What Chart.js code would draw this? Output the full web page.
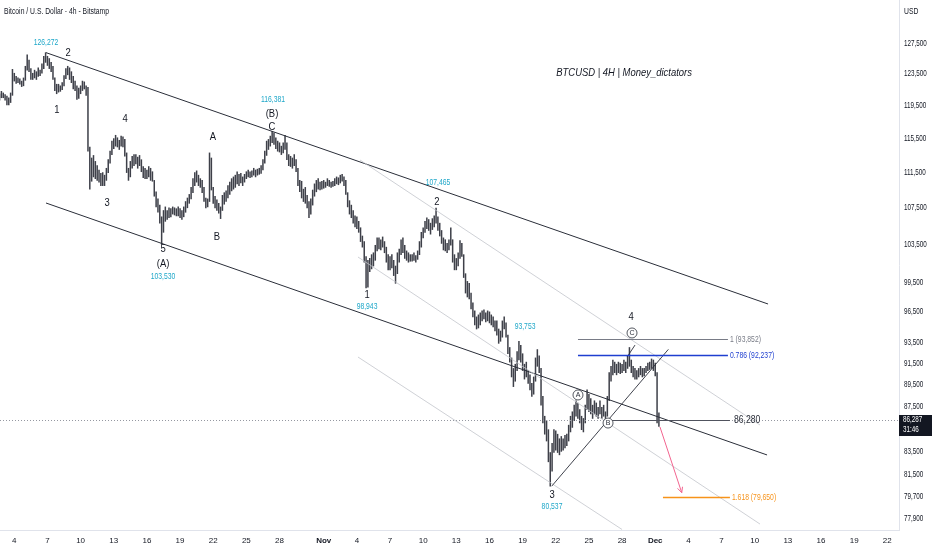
<!DOCTYPE html>
<html>
<head>
<meta charset="utf-8">
<title>BTCUSD 4H</title>
<script src="https://cdn.jsdelivr.net/npm/chart.js@4.4.1/dist/chart.umd.min.js"></script>
<style>
html, body { margin: 0; padding: 0; background: #fff; }
#wrap { width: 932px; height: 550px; position: relative; }
</style>
</head>
<body>
<div id="wrap"><canvas id="btc_chart"></canvas></div>
<script>
// time unit: days from Oct 1 00:00, one bar every 4h starting Oct 2 16:00
var firstBarDay = 1 + 16 / 24;
var barStep = 1 / 6;

// bar highs, thousands of USD, one row per day
var barHigh = [
    121.0, 121.3,
    121.1, 120.9, 120.7, 120.5, 121.1, 124.1,
    123.6, 123.2, 123.0, 122.9, 122.6, 123.0,
    124.5, 126.0, 125.3, 124.2, 123.6, 124.0,
    123.8, 124.3, 124.0, 124.8, 125.8, 126.27,
    125.8, 125.5, 125.0, 124.5, 123.0, 122.2,
    122.2, 122.0, 122.4, 123.3, 124.2, 124.5,
    124.3, 123.8, 123.2, 122.6, 122.0, 121.7,
    122.0, 122.6, 122.5, 122.0, 121.8, 114.5,
    113.2, 113.5, 112.8, 112.3, 111.8, 111.4,
    111.5, 111.2, 112.0, 113.0, 114.0, 115.2,
    115.5, 115.9, 115.6, 115.3, 115.8, 115.7,
    115.4, 113.8, 112.0, 112.8, 113.4, 113.6,
    113.6, 113.3, 113.5, 113.0, 112.2, 112.0,
    111.8, 112.2, 112.0, 111.6, 110.6, 109.3,
    108.5, 107.8, 106.5, 107.2, 107.6, 107.2,
    107.5, 107.4, 107.6, 107.5, 107.4, 107.6,
    107.4, 107.2, 107.6, 108.2, 108.6, 109.0,
    109.8, 110.8, 111.5, 111.7, 111.2, 110.8,
    110.6, 109.8, 108.6, 108.5, 113.8, 113.2,
    109.8, 108.8, 108.4, 108.0, 107.6, 108.9,
    109.2, 109.4, 110.0, 110.4, 110.8, 111.0,
    111.2, 111.6, 111.3, 111.4, 111.0, 111.3,
    111.6, 111.8, 111.6, 111.7, 112.0, 111.8,
    111.9, 112.0, 112.3, 113.0, 114.0, 115.2,
    115.4, 115.8, 116.38, 116.2, 115.6, 115.2,
    115.0, 114.6, 115.0, 115.9, 115.0, 113.6,
    113.4, 113.2, 113.6, 113.0, 112.0, 110.6,
    110.5, 109.6, 109.8, 108.9, 108.2, 108.5,
    109.5, 110.2, 110.6, 110.8, 110.4, 110.5,
    110.6, 110.4, 110.8, 110.6, 110.4, 110.5,
    110.8, 111.0, 110.9, 111.2, 111.3, 111.0,
    110.6, 109.2, 108.3, 107.8, 107.2, 106.6,
    106.5, 106.0, 105.3, 104.4, 103.8, 102.2,
    101.8, 102.0, 102.4, 102.6, 103.4, 104.2,
    104.2, 104.0, 104.3, 103.8, 103.2, 102.4,
    102.2, 102.4, 101.8, 101.2, 102.6, 103.0,
    104.0, 104.2, 103.4, 102.8, 102.6, 102.4,
    102.4, 102.6, 102.3, 102.8, 103.8, 104.8,
    105.3, 106.0, 106.4, 106.2, 105.8, 106.3,
    106.6, 107.47, 106.5, 105.8, 105.0, 104.2,
    104.0, 103.6, 104.0, 105.3, 104.0, 102.4,
    102.0, 102.6, 103.9, 103.6, 102.4, 100.4,
    99.6, 99.4, 98.4, 97.4, 96.6, 96.0,
    96.2, 96.4, 96.6, 96.7, 96.4, 96.6,
    96.5, 96.2, 96.0, 95.6, 95.6, 94.8,
    94.6, 95.6, 96.0, 95.4, 94.2, 93.0,
    92.0, 91.0, 91.4, 92.6, 93.6, 93.2,
    92.4, 91.4, 91.6, 90.8, 90.4, 89.6,
    90.2, 92.0, 92.8, 92.2, 91.0, 88.4,
    86.6, 86.2, 85.4, 83.4, 84.2, 85.4,
    85.3, 85.0, 84.6, 84.8, 84.6, 84.9,
    85.0, 85.8, 86.6, 87.0, 87.6, 88.0,
    87.8, 87.2, 86.6, 86.4, 87.6, 89.0,
    88.6, 88.2, 87.6, 88.0, 87.8, 87.4,
    88.0, 87.4, 87.6, 87.0, 88.4, 90.6,
    91.2, 91.8, 91.6, 91.4, 91.6, 91.5,
    91.4, 91.8, 91.6, 92.2, 93.0, 91.8,
    91.2, 91.0, 90.8, 91.0, 91.2, 91.0,
    91.0, 91.2, 91.5, 91.6, 91.9, 91.8,
    91.5, 90.6, 86.9
];
var barLow = [
    120.2, 120.5,
    120.5, 120.2, 119.6, 119.6, 119.9, 120.8,
    122.6, 122.3, 122.4, 122.2, 121.9, 122.0,
    122.7, 124.0, 123.8, 122.8, 122.8, 123.0,
    122.8, 123.2, 123.3, 123.6, 124.2, 125.0,
    124.6, 124.2, 123.8, 122.8, 121.4, 121.0,
    121.2, 121.3, 121.5, 122.0, 122.9, 123.4,
    122.8, 122.4, 121.6, 121.4, 120.3, 120.4,
    121.0, 121.4, 121.6, 120.8, 114.0, 109.6,
    110.5, 111.0, 110.8, 110.6, 110.4, 110.0,
    110.0, 110.0, 110.6, 111.5, 112.6, 113.6,
    114.3, 114.6, 114.5, 114.2, 114.6, 114.5,
    113.4, 111.5, 110.6, 111.0, 112.0, 112.3,
    112.5, 112.0, 112.3, 111.6, 110.9, 110.8,
    110.8, 111.0, 110.6, 110.5, 108.8, 107.6,
    107.0, 105.8, 103.53, 104.8, 106.0, 106.2,
    106.4, 106.5, 106.8, 106.7, 106.6, 106.6,
    106.4, 106.2, 106.5, 107.0, 107.5, 108.0,
    108.5, 109.2, 110.0, 110.4, 110.0, 109.8,
    109.2, 108.2, 107.5, 107.6, 108.2, 109.5,
    108.0, 107.5, 107.2, 106.9, 106.3, 107.2,
    107.9, 108.2, 108.6, 109.0, 109.4, 109.6,
    109.8, 110.2, 110.0, 110.3, 110.0, 110.4,
    110.8, 111.0, 110.9, 111.0, 111.2, 111.0,
    111.2, 111.3, 111.4, 111.8, 112.6, 113.5,
    114.2, 114.6, 115.0, 114.8, 114.3, 114.0,
    113.9, 113.6, 113.8, 114.2, 113.0, 112.3,
    112.2, 112.0, 112.3, 111.6, 110.0, 109.3,
    108.6, 108.2, 108.0, 107.5, 106.4, 106.8,
    107.8, 108.8, 109.3, 109.6, 109.5, 109.6,
    109.7, 109.8, 110.0, 109.9, 109.8, 109.9,
    110.0, 110.2, 110.1, 110.3, 110.5, 110.0,
    109.0, 107.6, 106.8, 106.4, 105.8, 105.4,
    105.2, 104.8, 103.8, 103.2, 101.6, 98.94,
    99.0, 100.6, 100.9, 101.2, 101.8, 102.8,
    103.0, 102.9, 103.2, 102.6, 101.6, 100.8,
    100.8, 101.0, 100.2, 99.4, 100.4, 101.6,
    102.4, 102.6, 102.0, 101.8, 101.6, 101.7,
    101.7, 101.8, 101.6, 101.9, 102.4, 103.2,
    104.2, 104.8, 105.2, 105.0, 104.6, 105.1,
    105.4, 105.8, 105.0, 104.4, 103.6, 102.9,
    102.8, 102.6, 102.9, 103.4, 101.6, 100.8,
    100.8, 101.2, 102.0, 102.2, 100.0, 98.4,
    98.0, 97.8, 96.8, 96.0, 95.2, 94.8,
    94.9, 95.2, 95.6, 95.8, 95.5, 95.6,
    95.4, 95.2, 95.0, 94.6, 94.2, 93.4,
    93.6, 94.0, 94.8, 94.0, 92.4, 91.6,
    90.2, 89.3, 89.8, 90.8, 91.8, 91.6,
    90.8, 90.0, 90.2, 89.6, 89.0, 88.4,
    88.6, 89.8, 91.2, 90.6, 87.6, 86.0,
    85.0, 84.4, 82.6, 80.54, 81.8, 83.4,
    83.6, 83.4, 83.2, 83.5, 83.6, 83.8,
    84.0, 84.4, 85.2, 85.6, 86.2, 86.6,
    86.4, 86.0, 85.4, 85.2, 86.0, 87.2,
    87.0, 86.8, 86.4, 86.8, 86.6, 86.4,
    86.8, 86.4, 86.6, 86.3, 86.6, 88.0,
    89.8, 90.4, 90.6, 90.4, 90.6, 90.5,
    90.6, 90.8, 90.6, 91.0, 91.2, 90.6,
    90.2, 90.0, 90.0, 90.2, 90.4, 90.2,
    90.3, 90.6, 90.8, 90.9, 91.0, 90.8,
    90.3, 86.0, 85.7
];

var lastPrice = 86287;
var countdown = '31:46';

// axis ticks
var dayTicks = [3, 6, 9, 12, 15, 18, 21, 24, 27, 31, 34, 37, 40, 43, 46, 49, 52, 55, 58, 61, 64, 67, 70, 73, 76, 79, 82];
var dayTickText = ['4', '7', '10', '13', '16', '19', '22', '25', '28', 'Nov', '4', '7', '10', '13', '16', '19', '22', '25', '28', 'Dec', '4', '7', '10', '13', '16', '19', '22'];
var priceTicks = [127500, 123500, 119500, 115500, 111500, 107500, 103500, 99500, 96500, 93500, 91500, 89500, 87500, 83500, 81500, 79700, 77900];

// drawings: [day1, price1, day2, price2, colour, width]
var trendLines = [
    [5.87, 126272, 71.21, 97290, '#2a2e39', 1],
    [5.87, 108035, 71.12, 83190, '#2a2e39', 1],
    [34.29, 112960, 70.48, 85815, '#c3c5cb', 0.8],
    [34.10, 102150, 70.48, 77436, '#c3c5cb', 0.8],
    [34.10, 92085, 58.0, 77000, '#c3c5cb', 0.8],
    [51.63, 80537, 62.19, 92820, '#2a2e39', 0.9],
    [58.45, 92085, 59.17, 93233, '#2a2e39', 0.9]
];
// [price, day from, day to, colour, label, width]
var fibLevels = [
    [93852, 54.01, 67.58, '#787b86', '1 (93,852)', 1],
    [92237, 54.01, 67.58, '#1f3fd0', '0.786 (92,237)', 1.6],
    [79650, 61.70, 67.76, '#f7931a', '1.618 (79,650)', 1.4]
];
var levelLine = [86280, 56.73, 67.76];
var targetArrow = [61.43, 85640, 63.40, 79997];

// [text, day, price]
var waveLabels = [
    ['2', 7.86, 126200], ['1', 6.86, 118980], ['3', 11.39, 108030], ['4', 13.02, 117870],
    ['5', 16.46, 103000], ['(A)', 16.46, 101400], ['A', 20.98, 115690], ['B', 21.34, 104290],
    ['(B)', 26.32, 118480], ['C', 26.32, 116900], ['1', 34.92, 98210], ['2', 41.25, 108140],
    ['3', 51.66, 79810], ['4', 58.81, 95980]
];
var priceTags = [
    ['126,272', 5.87, 127580], ['103,530', 16.46, 100050], ['116,381', 26.41, 120220],
    ['98,943', 34.92, 96990], ['107,465', 41.34, 110300], ['93,753', 49.22, 94990],
    ['80,537', 51.66, 78820]
];
var circleLabels = [['A', 54.01, 88530], ['B', 56.73, 85990], ['C', 58.90, 94410]];

var labelFont = '"Liberation Sans", Arial, sans-serif';

var barData = barHigh.map(function (h, i) {
    return { x: firstBarDay + i * barStep, y: [barLow[i] * 1000, h * 1000] };
});

// squeezed text, the screenshot uses a narrow face
function narrowText(ctx, text, x, y, align, sx) {
    ctx.save();
    ctx.translate(x, y);
    ctx.scale(sx, 1);
    ctx.textAlign = align;
    ctx.fillText(text, 0, 0);
    ctx.restore();
}

var drawings = {
    id: 'drawings',
    afterDatasetsDraw: function (chart) {
        var ctx = chart.ctx, xs = chart.scales.x, ys = chart.scales.y, a = chart.chartArea;
        var X = function (d) { return xs.getPixelForValue(d); };
        var Y = function (p) { return ys.getPixelForValue(p); };
        ctx.save();
        ctx.beginPath();
        ctx.rect(a.left, a.top, a.right - a.left, a.bottom - a.top);
        ctx.clip();

        // last price dotted line
        ctx.strokeStyle = '#9598a1';
        ctx.lineWidth = 1;
        ctx.setLineDash([1, 2]);
        ctx.beginPath();
        ctx.moveTo(a.left, Math.round(Y(lastPrice)) + 0.5);
        ctx.lineTo(a.right, Math.round(Y(lastPrice)) + 0.5);
        ctx.stroke();
        ctx.setLineDash([]);

        trendLines.forEach(function (l) {
            ctx.strokeStyle = l[4];
            ctx.lineWidth = l[5];
            ctx.beginPath();
            ctx.moveTo(X(l[0]), Y(l[1]));
            ctx.lineTo(X(l[2]), Y(l[3]));
            ctx.stroke();
        });

        ctx.textBaseline = 'middle';
        fibLevels.forEach(function (f) {
            var y = Math.round(Y(f[0])) + 0.5;
            ctx.strokeStyle = f[3];
            ctx.lineWidth = f[5];
            ctx.beginPath();
            ctx.moveTo(X(f[1]), y);
            ctx.lineTo(X(f[2]), y);
            ctx.stroke();
            ctx.fillStyle = f[3];
            ctx.font = '8.5px ' + labelFont;
            narrowText(ctx, f[4], X(f[2]) + 2, y, 'left', 0.8);
        });

        var ly = Math.round(Y(levelLine[0])) + 0.5;
        ctx.strokeStyle = '#50535e';
        ctx.lineWidth = 1;
        ctx.beginPath();
        ctx.moveTo(X(levelLine[1]), ly);
        ctx.lineTo(X(levelLine[2]), ly);
        ctx.stroke();
        ctx.fillStyle = '#2a2e39';
        ctx.font = '10.5px ' + labelFont;
        narrowText(ctx, '86,280', X(levelLine[2]) + 4, ly, 'left', 0.82);

        // target arrow
        var x1 = X(targetArrow[0]), y1 = Y(targetArrow[1]);
        var x2 = X(targetArrow[2]), y2 = Y(targetArrow[3]);
        var ang = Math.atan2(y2 - y1, x2 - x1);
        ctx.strokeStyle = '#f2648f';
        ctx.lineWidth = 1;
        ctx.beginPath();
        ctx.moveTo(x1, y1);
        ctx.lineTo(x2, y2);
        ctx.moveTo(x2, y2);
        ctx.lineTo(x2 - 6 * Math.cos(ang - 0.45), y2 - 6 * Math.sin(ang - 0.45));
        ctx.moveTo(x2, y2);
        ctx.lineTo(x2 - 6 * Math.cos(ang + 0.45), y2 - 6 * Math.sin(ang + 0.45));
        ctx.stroke();

        ctx.fillStyle = '#131722';
        ctx.font = '10.5px ' + labelFont;
        waveLabels.forEach(function (w) {
            narrowText(ctx, w[0], X(w[1]), Y(w[2]), 'center', 0.9);
        });

        ctx.fillStyle = '#1ea7c9';
        ctx.font = '8.5px ' + labelFont;
        priceTags.forEach(function (p) {
            narrowText(ctx, p[0], X(p[1]), Y(p[2]), 'center', 0.8);
        });

        circleLabels.forEach(function (c) {
            var cx = X(c[1]), cy = Y(c[2]);
            ctx.fillStyle = '#fff';
            ctx.strokeStyle = '#2a2e39';
            ctx.lineWidth = 0.8;
            ctx.beginPath();
            ctx.arc(cx, cy, 5, 0, Math.PI * 2);
            ctx.fill();
            ctx.stroke();
            ctx.fillStyle = '#2a2e39';
            ctx.font = '7px ' + labelFont;
            ctx.textAlign = 'center';
            ctx.fillText(c[0], cx, cy + 0.5);
        });

        ctx.fillStyle = '#131722';
        ctx.font = 'italic 10.5px ' + labelFont;
        narrowText(ctx, 'BTCUSD | 4H | Money_dictators', X(58.18), Y(123631), 'center', 0.9);
        ctx.restore();
    },
    afterDraw: function (chart) {
        var ctx = chart.ctx, ys = chart.scales.y;
        ctx.save();
        ctx.textBaseline = 'middle';
        ctx.fillStyle = '#131722';
        ctx.font = '8.5px ' + labelFont;
        priceTicks.forEach(function (p) {
            narrowText(ctx, p.toLocaleString('en-US'), ys.left + 5, ys.getPixelForValue(p), 'left', 0.74);
        });
        narrowText(ctx, 'USD', ys.left + 5, 12, 'left', 0.8);

        var y = Math.round(ys.getPixelForValue(lastPrice));
        ctx.fillRect(ys.left, y - 5, ys.right - ys.left, 21);
        ctx.fillStyle = '#fff';
        narrowText(ctx, lastPrice.toLocaleString('en-US'), ys.left + 4, y, 'left', 0.74);
        narrowText(ctx, countdown, ys.left + 4, y + 10, 'left', 0.74);

        ctx.fillStyle = '#131722';
        ctx.font = '8.5px ' + labelFont;
        narrowText(ctx, 'Bitcoin / U.S. Dollar - 4h - Bitstamp', 4, 12, 'left', 0.8);
        ctx.restore();
    }
};

var ctx_btc = document.getElementById('btc_chart');
var btc_chart = new Chart(ctx_btc, {
    type: 'bar',
    data: {
        datasets: [{
            label: 'BTCUSD',
            data: barData,
            backgroundColor: '#3e4049',
            barThickness: 0.85,
            borderWidth: 0
        }]
    },
    options: {
        responsive: true,
        maintainAspectRatio: false,
        animation: false,
        layout: { padding: 0 },
        plugins: {
            legend: { display: false },
            tooltip: { enabled: false }
        },
        scales: {
            x: {
                type: 'linear',
                min: 1.706,
                max: 83.06,
                offset: false,
                grid: { display: false, drawTicks: false },
                border: { display: true, color: '#e0e3eb' },
                afterBuildTicks: function (scale) {
                    scale.ticks = dayTicks.map(function (d) { return { value: d }; });
                },
                afterFit: function (scale) { scale.height = 20; },
                ticks: {
                    autoSkip: false,
                    maxRotation: 0,
                    padding: 6,
                    color: '#131722',
                    font: function (c) {
                        var t = dayTickText[c.index];
                        return { size: 8, family: labelFont, weight: (t === 'Nov' || t === 'Dec') ? 'bold' : 'normal' };
                    },
                    callback: function (v, i) { return dayTickText[i]; }
                }
            },
            y: {
                type: 'logarithmic',
                position: 'right',
                min: 76960,
                max: 133357,
                grid: { display: false, drawTicks: false },
                border: { display: true, color: '#e0e3eb' },
                afterBuildTicks: function (scale) {
                    scale.ticks = priceTicks.map(function (p) { return { value: p }; });
                },
                afterFit: function (scale) { scale.width = 33; },
                ticks: { display: false }
            }
        }
    },
    plugins: [drawings]
});
</script>
</body>
</html>
